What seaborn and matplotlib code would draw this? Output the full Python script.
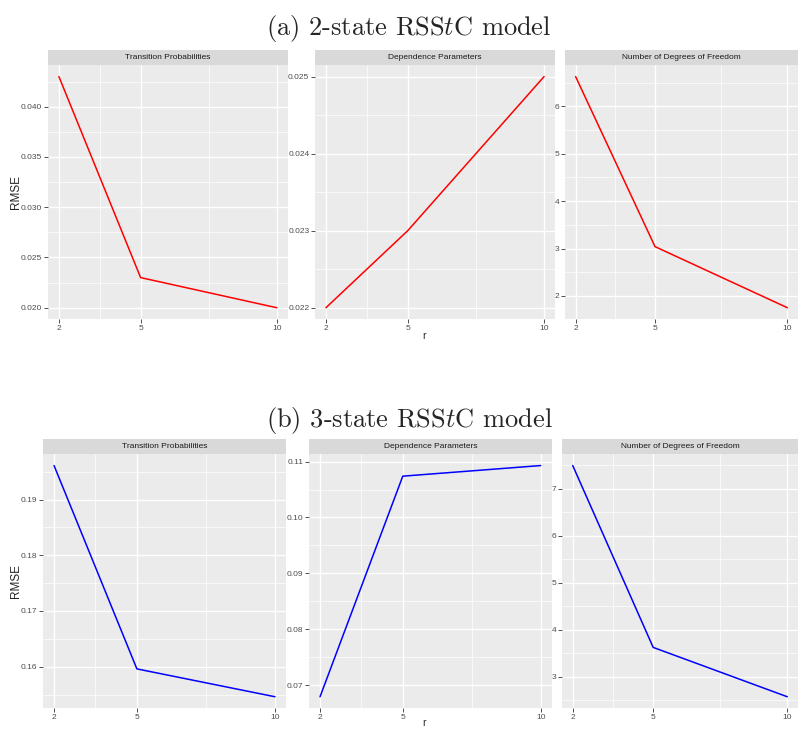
import matplotlib
matplotlib.use("Agg")
import matplotlib.pyplot as plt
import seaborn as sns
import pandas as pd
from matplotlib.ticker import MultipleLocator, FixedLocator

# ---- data ----
r_values = [2, 5, 10]
panel_names = ["Transition Probabilities", "Dependence Parameters",
               "Number of Degrees of Freedom"]

rmse_2state_trans = [0.043, 0.023, 0.020]
rmse_2state_dep = [0.022, 0.023, 0.025]
rmse_2state_df = [6.63, 3.04, 1.75]

rmse_3state_trans = [0.1961, 0.1596, 0.1546]
rmse_3state_dep = [0.0679, 0.1074, 0.1093]
rmse_3state_df = [7.49, 3.62, 2.57]

x_major = [2, 5, 10]
x_minor = [3.5, 7.5]
y_steps_2state = [0.005, 0.001, 1]
y_steps_3state = [0.01, 0.01, 1]

# ---- style (ggplot-like grey theme) ----
sns.set_style("darkgrid", {"axes.facecolor": "#EBEBEB", "grid.color": "white",
                           "axes.edgecolor": "#EBEBEB"})
plt.rcParams['font.family'] = ['Liberation Sans', 'DejaVu Sans']
plt.rcParams['mathtext.fontset'] = 'cm'

W, H = 799, 729
fig = plt.figure(figsize=(W / 100, H / 100), dpi=100)


def px_axes(x0, x1, y0, y1):
    # pixel box (top-left origin) -> figure axes
    return fig.add_axes([x0 / W, 1 - y1 / H, (x1 - x0) / W, (y1 - y0) / H])


def draw_panel(box, strip_box, values, name, color, ystep):
    ax = px_axes(*box)
    df = pd.DataFrame({"r": r_values, "rmse": values})
    sns.lineplot(data=df, x="r", y="rmse", ax=ax, color=color, linewidth=1.1)

    lo, hi = min(values), max(values)
    pad = (hi - lo) * 0.05
    ax.set_ylim(lo - pad, hi + pad)
    ax.set_xlim(1.6, 10.4)

    ax.xaxis.set_major_locator(FixedLocator(x_major))
    ax.xaxis.set_minor_locator(FixedLocator(x_minor))
    ax.yaxis.set_major_locator(MultipleLocator(ystep))
    ax.yaxis.set_minor_locator(MultipleLocator(ystep / 2))
    ax.grid(True, which="major", color="white", linewidth=1.0)
    ax.grid(True, which="minor", color="white", linewidth=0.5)
    ax.tick_params(which="major", length=2.6, width=0.6, color="#333333",
                   labelsize=6, labelcolor="#4D4D4D", pad=1.5, bottom=True, left=True)
    ax.tick_params(which="minor", length=0)
    for spine in ax.spines.values():
        spine.set_visible(False)
    ax.set_xlabel("")
    ax.set_ylabel("")

    sax = px_axes(*strip_box)
    sax.set_facecolor("#D9D9D9")
    sax.set_xticks([])
    sax.set_yticks([])
    sax.grid(False)
    for spine in sax.spines.values():
        spine.set_visible(False)
    sax.text(0.5, 0.5, name, ha="center", va="center", fontsize=6,
             color="#1A1A1A", transform=sax.transAxes)
    return ax


# ---- row (a) ----
row_a = [rmse_2state_trans, rmse_2state_dep, rmse_2state_df]
xs_a = [(48, 287.7), (315, 555), (565, 798)]
for i, (x0, x1) in enumerate(xs_a):
    draw_panel((x0, x1, 65, 319.3), (x0, x1, 50, 65), row_a[i], panel_names[i],
               "red", y_steps_2state[i])

# ---- row (b) ----
row_b = [rmse_3state_trans, rmse_3state_dep, rmse_3state_df]
xs_b = [(43, 286), (309, 551.7), (562, 798)]
for i, (x0, x1) in enumerate(xs_b):
    draw_panel((x0, x1, 454, 708.3), (x0, x1, 439.3, 454), row_b[i], panel_names[i],
               "blue", y_steps_3state[i])

# shared axis titles (ggplot places them across all panels)
for y_r, y_rmse in [(336, 192), (723, 581)]:
    fig.text(424 / W, 1 - y_r / H, "r", ha="center", va="center", fontsize=7.5)
    fig.text(16.5 / W, 1 - y_rmse / H, "RMSE", ha="center", va="center",
             rotation=90, fontsize=8.5)

fig.text(409 / W, 1 - 28 / H, r"(a) 2-state RSS$t$C model", ha="center", va="center",
         fontsize=19, family="cmr10")
fig.text(409 / W, 1 - 421 / H, r"(b) 3-state RSS$t$C model", ha="center", va="center",
         fontsize=19, family="cmr10")

fig.savefig("out.png", dpi=100)
